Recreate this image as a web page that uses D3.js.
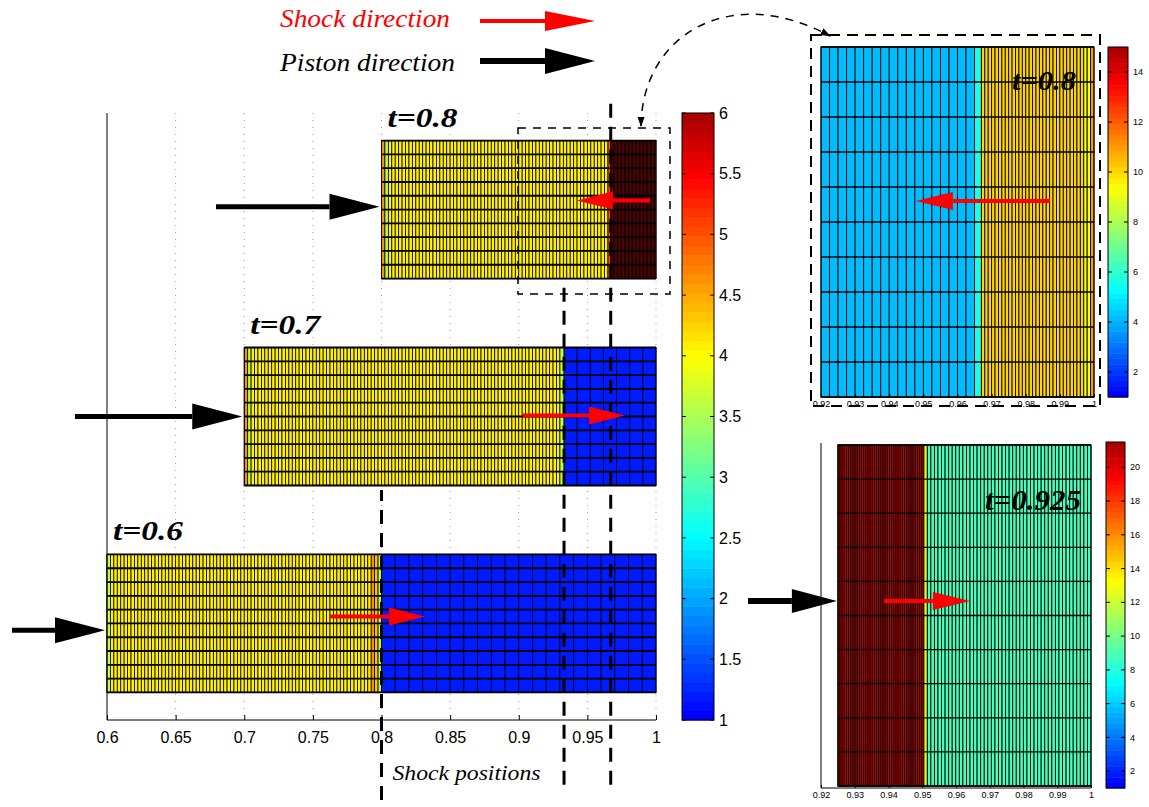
<!DOCTYPE html>
<html>
<head>
<meta charset="utf-8">
<script src="https://cdnjs.cloudflare.com/ajax/libs/d3/7.8.5/d3.min.js"></script>
<style>
  body { margin: 0; background: #fff; }
  text { font-family: "Liberation Sans", Arial, sans-serif; }
  .serif { font-family: "Liberation Serif", "Times New Roman", serif; font-style: italic; }
</style>
</head>
<body>
<script>
// piston / shock snapshots
const snapLabels = ["t=0.6", "t=0.7", "t=0.8"];
const pistonPos = [0.6, 0.7, 0.8];
const shockPos = [0.8, 0.933, 0.967];
const barBase = [0.2, 1.7, 3.2];          // bottom of each strip, in y units

// cell segments: [x start, x end, number of cells, density]
const cells06 = [[0.6, 0.6025, 1, 3.6], [0.6025, 0.7925, 76, 4.05], [0.7925, 0.795, 1, 4.6],
                 [0.795, 0.7975, 1, 4.3], [0.7975, 0.8, 1, 3.5], [0.8, 1.0, 20, 1.2]];
const cells07 = [[0.7, 0.7025, 1, 4.6], [0.7025, 0.705, 1, 3.6], [0.705, 0.93, 90, 4.05],
                 [0.93, 0.933, 1, 3.6], [0.933, 1.0, 7, 1.2]];
const cells08 = [[0.8, 0.8025, 1, 4.6], [0.8025, 0.805, 1, 3.6], [0.805, 0.965, 64, 4.05],
                 [0.965, 0.967, 1, 5.0], [0.967, 1.0, 33, 10]];
const mainCells = [cells06, cells07, cells08];

// zoomed t=0.8 and t=0.925
const zoomCells08 = [[0.92, 0.965, 18, 4.1], [0.965, 0.967, 1, 5.8], [0.967, 0.997, 30, 10],
                     [0.997, 0.999, 2, 9.2], [0.999, 1.0, 1, 11]];
const zoomCells0925 = [[0.925, 0.9505, 40, 21], [0.9505, 0.9515, 1, 12.5], [0.9515, 1.0, 46, 9.0]];

const mainTicks = [0.6, 0.65, 0.7, 0.75, 0.8, 0.85, 0.9, 0.95, 1];
const mainCbTicks = [1, 1.5, 2, 2.5, 3, 3.5, 4, 4.5, 5, 5.5, 6];
const zoomTicks = [0.92, 0.93, 0.94, 0.95, 0.96, 0.97, 0.98, 0.99, 1];
const cb1Ticks = [2, 4, 6, 8, 10, 12, 14];
const cb2Ticks = [2, 4, 6, 8, 10, 12, 14, 16, 18, 20];

// arrows (x in data units)
const shockArrows = [[0.7625, 0.8317], [0.903, 0.9774], [0.9956, 0.9424]];
const shockArrowRow = [0.55, 0.507, 0.565];
const pistonTail = [0.5308, 0.5767, 0.6794];
const pistonRow = [0.45, 0.5, 0.52];

const W = 1149, H = 807;
const svg = d3.select("body").append("svg")
    .attr("width", W).attr("height", H);
svg.append("rect").attr("width", W).attr("height", H).attr("fill", "#fff");

// jet colormap, shifted like the picture (bottom = pure blue, top = dark red)
function jet(p) {
  const c = v => Math.max(0, Math.min(1, v));
  return d3.rgb(255 * c(1.5 - Math.abs(4 * p - 3)), 255 * c(1.5 - Math.abs(4 * p - 2)),
                255 * c(1.5 - Math.abs(4 * p - 1)));
}
function colorScale(vmin, vmax) {
  return v => {
    let t = Math.max(0, Math.min(1, (v - vmin) / (vmax - vmin)));
    t = Math.min(63, Math.floor(t * 64)) / 63;
    return jet(0.125 + 0.8333 * t).toString();
  };
}

function drawCells(g, segs, x, yTop, yBot, color, colW, rowW) {
  segs.forEach(s => {
    for (let i = 0; i < s[2]; i++) {
      let a = s[0] + (s[1] - s[0]) * i / s[2];
      let b = s[0] + (s[1] - s[0]) * (i + 1) / s[2];
      g.append("rect")
        .attr("x", x(a)).attr("y", yTop)
        .attr("width", x(b) - x(a)).attr("height", yBot - yTop)
        .attr("fill", color(s[3]))
        .attr("stroke", "#000").attr("stroke-width", colW);
    }
  });
  let x0 = x(segs[0][0]), x1 = x(segs[segs.length - 1][1]);
  for (let r = 0; r <= 10; r++) {
    let yy = yTop + (yBot - yTop) * r / 10;
    g.append("line").attr("x1", x0).attr("x2", x1).attr("y1", yy).attr("y2", yy)
      .attr("stroke", "#000").attr("stroke-width", rowW);
  }
  g.append("rect").attr("x", x0).attr("y", yTop).attr("width", x1 - x0).attr("height", yBot - yTop)
    .attr("fill", "none").attr("stroke", "#000").attr("stroke-width", 1);
}

function drawColorbar(x0, x1, yScale, vmin, vmax, ticks, fs, color) {
  let g = svg.append("g");
  for (let i = 0; i < 64; i++) {
    let a = vmin + (vmax - vmin) * i / 64, b = vmin + (vmax - vmin) * (i + 1) / 64;
    g.append("rect").attr("x", x0).attr("width", x1 - x0)
      .attr("y", yScale(b)).attr("height", yScale(a) - yScale(b) + 0.5)
      .attr("fill", color((a + b) / 2));
  }
  g.append("rect").attr("x", x0).attr("y", yScale(vmax)).attr("width", x1 - x0)
    .attr("height", yScale(vmin) - yScale(vmax)).attr("fill", "none").attr("stroke", "#000");
  ticks.forEach(t => {
    g.append("line").attr("x1", x0).attr("x2", x0 + 4).attr("y1", yScale(t)).attr("y2", yScale(t)).attr("stroke", "#000");
    g.append("line").attr("x1", x1 - 4).attr("x2", x1).attr("y1", yScale(t)).attr("y2", yScale(t)).attr("stroke", "#000");
    g.append("text").attr("x", x1 + 5).attr("y", yScale(t)).attr("dy", "0.35em")
      .style("font-size", fs + "px").text(t);
  });
}

function arrow(x1, x2, yy, col, shaftW, headL, headH) {
  let dir = x2 > x1 ? 1 : -1;
  let hb = x2 - dir * headL;
  svg.append("line").attr("x1", x1).attr("x2", hb).attr("y1", yy).attr("y2", yy)
    .attr("stroke", col).attr("stroke-width", shaftW);
  svg.append("path").attr("d", `M${x2},${yy} L${hb},${yy - headH} L${hb},${yy + headH} Z`).attr("fill", col);
}

// ---------------- main plot ----------------
const x = d3.scaleLinear().domain([0.6, 1]).range([107, 656]);
const y = d3.scaleLinear().domain([0, 4.4]).range([720, 113]);
const mainColor = colorScale(1, 6);

mainTicks.slice(1).forEach(t => {
  svg.append("line").attr("x1", x(t)).attr("x2", x(t)).attr("y1", y(4.4)).attr("y2", y(0))
    .attr("stroke", "#999").attr("stroke-dasharray", "1,6");
});
svg.append("line").attr("x1", x(0.6)).attr("x2", x(0.6)).attr("y1", y(4.4)).attr("y2", y(0)).attr("stroke", "#000");

let xAxis = svg.append("g").attr("transform", `translate(0,${y(0)})`)
  .call(d3.axisBottom(x).tickValues(mainTicks).tickSize(-5).tickPadding(12)
        .tickFormat(d => d3.format("~g")(d)));
xAxis.select(".domain").attr("d", `M${x(0.6)},0H${x(1)}`);
xAxis.selectAll("text").style("font-size", "16px").style("font-family", "Liberation Sans, Arial");

mainCells.forEach((segs, i) => {
  let g = svg.append("g");
  drawCells(g, segs, x, y(barBase[i] + 1), y(barBase[i]), mainColor, 0.8, 1.8);
  svg.append("text").attr("class", "serif").attr("x", x(pistonPos[i]) + 6).attr("y", y(barBase[i] + 1) - 14)
    .style("font-size", "27px").style("font-weight", "bold")
    .attr("textLength", 70).attr("lengthAdjust", "spacingAndGlyphs").text(snapLabels[i]);
});

// shock position lines
const shockLineY = [[-0.58, 1.667], [-0.47, 3.153], [-0.47, 4.516]];
shockPos.forEach((s, i) => {
  svg.append("line").attr("x1", x(s)).attr("x2", x(s))
    .attr("y1", y(shockLineY[i][0])).attr("y2", y(shockLineY[i][1]))
    .attr("stroke", "#000").attr("stroke-width", 3).attr("stroke-dasharray", "14,9");
});
svg.append("text").attr("class", "serif").attr("x", x(0.8) + 11).attr("y", 780)
  .style("font-size", "22px").attr("textLength", 148).attr("lengthAdjust", "spacingAndGlyphs")
  .text("Shock positions");

// arrows in main plot
pistonPos.forEach((p, i) => {
  arrow(x(pistonTail[i]), x(p) - 2, y(barBase[i] + pistonRow[i]), "#000", 5, 50, 13);
  arrow(x(shockArrows[i][0]), x(shockArrows[i][1]), y(barBase[i] + shockArrowRow[i]), "#f00", 4, 36, 9);
});

drawColorbar(682, 714, d3.scaleLinear().domain([1, 6]).range([720, 113]), 1, 6, mainCbTicks, 16, mainColor);

// zoom box and curved link
svg.append("rect").attr("x", 518).attr("y", 128).attr("width", 152).attr("height", 166)
  .attr("fill", "none").attr("stroke", "#000").attr("stroke-width", 1.5).attr("stroke-dasharray", "8,7");
let defs = svg.append("defs");
defs.append("marker").attr("id", "ah").attr("viewBox", "0 0 10 10").attr("refX", 9).attr("refY", 5)
  .attr("markerWidth", 7).attr("markerHeight", 7).attr("orient", "auto-start-reverse")
  .append("path").attr("d", "M0,1.5 L10,5 L0,8.5 Z").attr("fill", "#000");
svg.append("path").attr("d", "M641,126 C642,35 730,-18 830,36")
  .attr("fill", "none").attr("stroke", "#000").attr("stroke-width", 1.5).attr("stroke-dasharray", "8,7")
  .attr("marker-start", "url(#ah)").attr("marker-end", "url(#ah)");

// legend
svg.append("text").attr("class", "serif").attr("x", 280).attr("y", 27).attr("fill", "#f00")
  .style("font-size", "26px").attr("textLength", 170).attr("lengthAdjust", "spacingAndGlyphs")
  .text("Shock direction");
arrow(480, 595, 21, "#f00", 4, 50, 10);
svg.append("text").attr("class", "serif").attr("x", 280).attr("y", 71).attr("fill", "#000")
  .style("font-size", "26px").attr("textLength", 175).attr("lengthAdjust", "spacingAndGlyphs")
  .text("Piston direction");
arrow(480, 595, 61, "#000", 6, 50, 13);

// ---------------- inset t=0.8 ----------------
const x1 = d3.scaleLinear().domain([0.92, 1]).range([821, 1094]);
const c1 = colorScale(1, 15);
let g1 = svg.append("g");
drawCells(g1, zoomCells08, x1, 47, 397, c1, 0.9, 1.3);
let ax1 = svg.append("g").attr("transform", "translate(0,397)")
  .call(d3.axisBottom(x1).tickValues(zoomTicks).tickSize(-3).tickPadding(4).tickFormat(d => d3.format("~g")(d)));
ax1.select(".domain").remove();
ax1.selectAll("text").style("font-size", "9px");
svg.append("text").attr("class", "serif").attr("x", 1012).attr("y", 90)
  .style("font-size", "27px").style("font-weight", "bold")
  .attr("textLength", 64).attr("lengthAdjust", "spacingAndGlyphs").text("t=0.8");
arrow(x1(0.9871), x1(0.9478), 201, "#f00", 4, 37, 9);
drawColorbar(1108, 1128, d3.scaleLinear().domain([1, 15]).range([397, 47]), 1, 15, cb1Ticks, 9, c1);
svg.append("rect").attr("x", 811).attr("y", 35).attr("width", 289).attr("height", 371)
  .attr("fill", "none").attr("stroke", "#000").attr("stroke-width", 2).attr("stroke-dasharray", "11,7");

// ---------------- inset t=0.925 ----------------
const x2 = d3.scaleLinear().domain([0.92, 1]).range([821, 1091]);
const c2 = colorScale(1, 21.5);
let g2 = svg.append("g");
drawCells(g2, zoomCells0925, x2, 445, 786, c2, 0.9, 1.3);
svg.append("line").attr("x1", 821).attr("x2", 821).attr("y1", 443).attr("y2", 788).attr("stroke", "#000");
let ax2 = svg.append("g").attr("transform", "translate(0,788)")
  .call(d3.axisBottom(x2).tickValues(zoomTicks).tickSize(-3).tickPadding(4).tickFormat(d => d3.format("~g")(d)));
ax2.select(".domain").attr("d", "M821,0H1091");
ax2.selectAll("text").style("font-size", "9px");
svg.append("text").attr("class", "serif").attr("x", 985).attr("y", 510)
  .style("font-size", "30px").style("font-weight", "bold")
  .attr("textLength", 96).attr("lengthAdjust", "spacingAndGlyphs").text("t=0.925");
arrow(748, x2(0.925) - 1, 601, "#000", 6, 45, 12);
arrow(x2(0.9387), x2(0.9641), 601, "#f00", 4, 37, 9);
drawColorbar(1106, 1125, d3.scaleLinear().domain([1, 21.5]).range([788, 442]), 1, 21.5, cb2Ticks, 9, c2);
</script>
</body>
</html>
